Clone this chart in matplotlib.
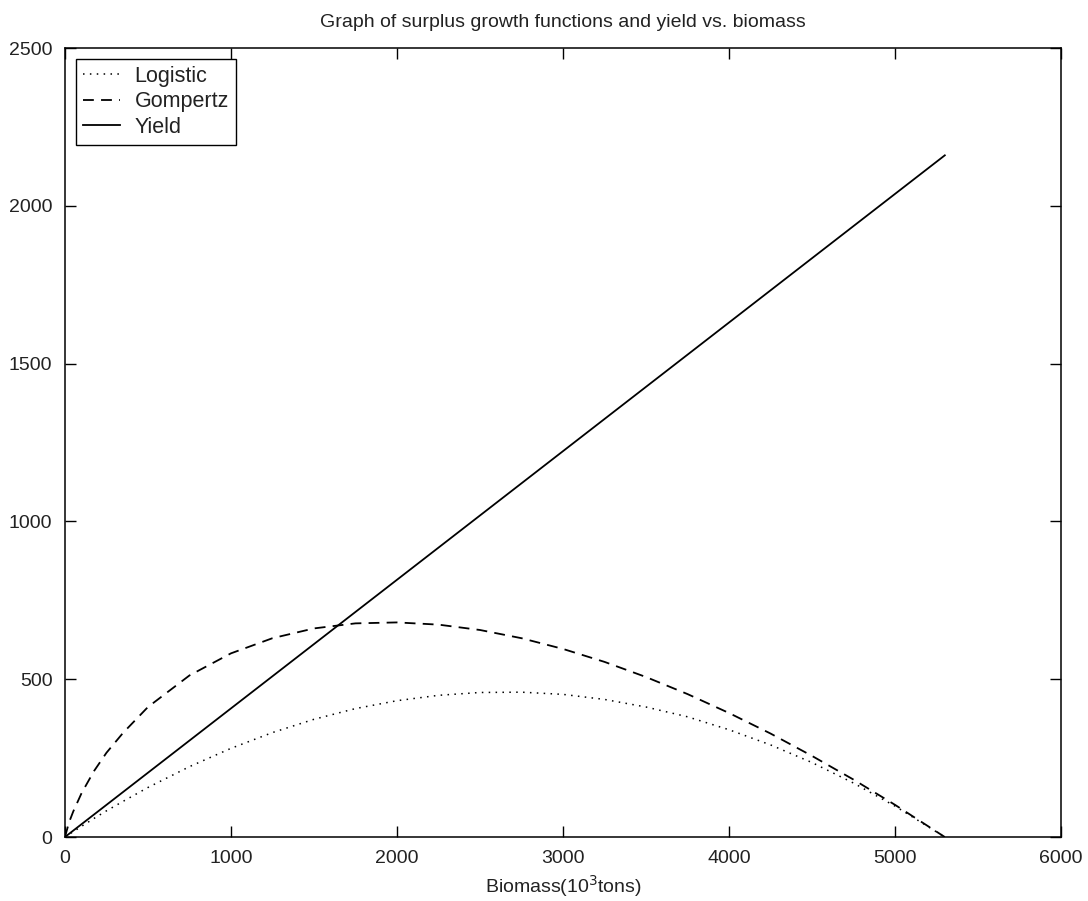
import matplotlib
matplotlib.use("Agg")
import matplotlib.pyplot as plt

plt.rcParams["font.family"] = ["Liberation Sans", "DejaVu Sans"]

# biomass grid (10^3 tons) and curves
biomass = [0, 25, 50, 100, 175, 250, 350, 500, 750, 1000, 1250, 1500, 1750, 2000, 2250, 2500,
           2750, 3000, 3250, 3500, 3750, 4000, 4250, 4500, 4750, 5000, 5300]
logistic = [0, 9, 17, 34, 59, 83, 113, 157, 223, 281, 331, 373, 407, 432, 449, 458,
            459, 452, 436, 412, 381, 340, 292, 236, 171, 98, 0]
gompertz = [0, 47, 81, 139, 209, 267, 330, 412, 512, 582, 630, 661, 677, 680, 673, 656,
            630, 596, 555, 507, 453, 393, 328, 257, 182, 102, 0]
yield_b = [0, 5300]
yield_v = [0, 2160]

TXT = "#222222"

fig = plt.figure(figsize=(10.88, 9.01), dpi=100)
ax = fig.add_axes([0.0597, 0.071, 0.9155, 0.8757])

ax.plot(biomass, logistic, color="black", lw=1.1, linestyle=(0, (1, 3.5)), label="Logistic")
ax.plot(biomass, gompertz, color="black", lw=1.3, linestyle=(0, (6, 4)), label="Gompertz")
ax.plot(yield_b, yield_v, color="black", lw=1.3, label="Yield")

ax.set_xlim(0, 6000)
ax.set_ylim(0, 2500)
ax.set_xticks(range(0, 6001, 1000))
ax.set_yticks(range(0, 2501, 500))
ax.tick_params(direction="in", length=8, width=1, top=True, right=True,
               labelsize=14, labelcolor=TXT, pad=9)
for s in ax.spines.values():
    s.set_linewidth(1.1)

ax.set_xlabel("Biomass(10$^3$tons)", fontsize=14, color=TXT, labelpad=5)
ax.set_title("Graph of surplus growth functions and yield vs. biomass", fontsize=14,
             color=TXT, pad=15)

leg = ax.legend(loc="upper left", fontsize=15.5, fancybox=False, framealpha=1,
                edgecolor="black", handlelength=1.75, borderaxespad=0.5,
                labelspacing=0.2, borderpad=0.33, handletextpad=0.65)
leg.get_frame().set_linewidth(1.0)
for t in leg.get_texts():
    t.set_color(TXT)

fig.savefig("out.png", dpi=100)
